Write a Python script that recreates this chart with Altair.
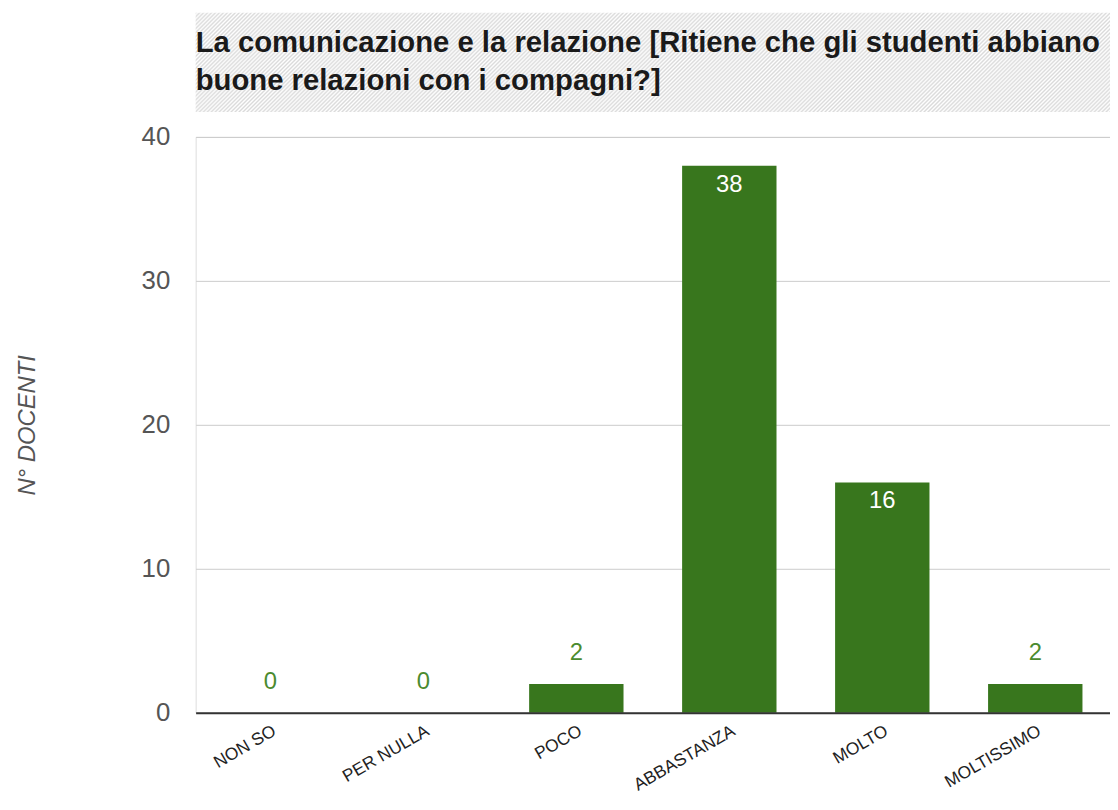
import altair as alt
import pandas as pd

categories = ["NON SO", "PER NULLA", "POCO", "ABBASTANZA", "MOLTO", "MOLTISSIMO"]
counts = [0, 0, 2, 38, 16, 2]
y_ticks = [0, 10, 20, 30, 40]
title_lines = [
    "La comunicazione e la relazione [Ritiene che gli studenti abbiano",
    "buone relazioni con i compagni?]",
]
y_title = "N° DOCENTI"

df = pd.DataFrame({"cat": categories, "n": counts})

W, H = 921, 580
FONT = "Liberation Sans"
BAR = "#38761d"

# hatched title background (fine diagonal stripes via a linear gradient)
HB = 100
k = (W + HB) / (W * (1 + (HB / W) ** 2))
n_stripes = 256
stops = []
for i in range(n_stripes):
    stops += [
        {"offset": i / n_stripes, "color": "#dadada"},
        {"offset": (i + 0.5) / n_stripes, "color": "#ffffff"},
    ]
stops.append({"offset": 1, "color": "#dadada"})
grad = alt.LinearGradient(gradient="linear", stops=stops, x1=0, y1=0, x2=k, y2=k * HB / W)

bg = alt.Chart(pd.DataFrame({"k": [0]})).mark_rect(fill=grad).encode(
    x=alt.value(0), x2=alt.value(W), y=alt.value(-125), y2=alt.value(-25)
)

base = alt.Chart(df).encode(
    x=alt.X(
        "cat:N",
        sort=categories,
        scale=alt.Scale(paddingInner=0.383, paddingOuter=0.18),
        axis=alt.Axis(
            title=None,
            labelAngle=-30,
            labelFontSize=17.5,
            labelFont=FONT,
            labelColor="#222222",
            labelPadding=9,
            ticks=False,
            grid=False,
            domainColor="#333333",
            domainWidth=2,
            zindex=1,
        ),
    ),
    y=alt.Y(
        "n:Q",
        scale=alt.Scale(domain=[0, 40], nice=False),
        axis=alt.Axis(
            values=y_ticks,
            title=y_title,
            titleFont=FONT,
            titleFontSize=24,
            titleFontStyle="italic",
            titleFontWeight="normal",
            titleColor="#555555",
            titleX=-169,
            titleY=H / 2,
            titleAngle=270,
            titleAlign="center",
            titleBaseline="middle",
            labelFontSize=26,
            labelFont=FONT,
            labelColor="#555555",
            labelPadding=26,
            ticks=False,
            domain=False,
            grid=True,
            gridColor="#cccccc",
            gridWidth=1,
        ),
    ),
)

bars = base.mark_bar(color=BAR)
lab_out = base.transform_filter("datum.n < 10").mark_text(
    dy=-24, baseline="alphabetic", color="#4b8b2f", fontSize=24, font=FONT
).encode(text="n:Q")
lab_in = base.transform_filter("datum.n >= 10").mark_text(
    dy=7, baseline="top", color="#ffffff", fontSize=24, font=FONT
).encode(text="n:Q")

chart = (
    alt.layer(bg, bars, lab_out, lab_in)
    .properties(
        width=W,
        height=H,
        autosize=alt.AutoSizeParams(type="none"),
        padding={"left": 189, "top": 127, "right": 0, "bottom": 80},
        title=alt.TitleParams(
            text=title_lines,
            anchor="start",
            frame="group",
            font=FONT,
            fontSize=29.5,
            fontWeight="bold",
            color="#1a1a1a",
            lineHeight=38,
            offset=-84,
        ),
    )
    .configure_view(stroke=None)
    .configure(background="white")
)

chart.save("out.html", embed_options={"renderer": "svg", "actions": False})
